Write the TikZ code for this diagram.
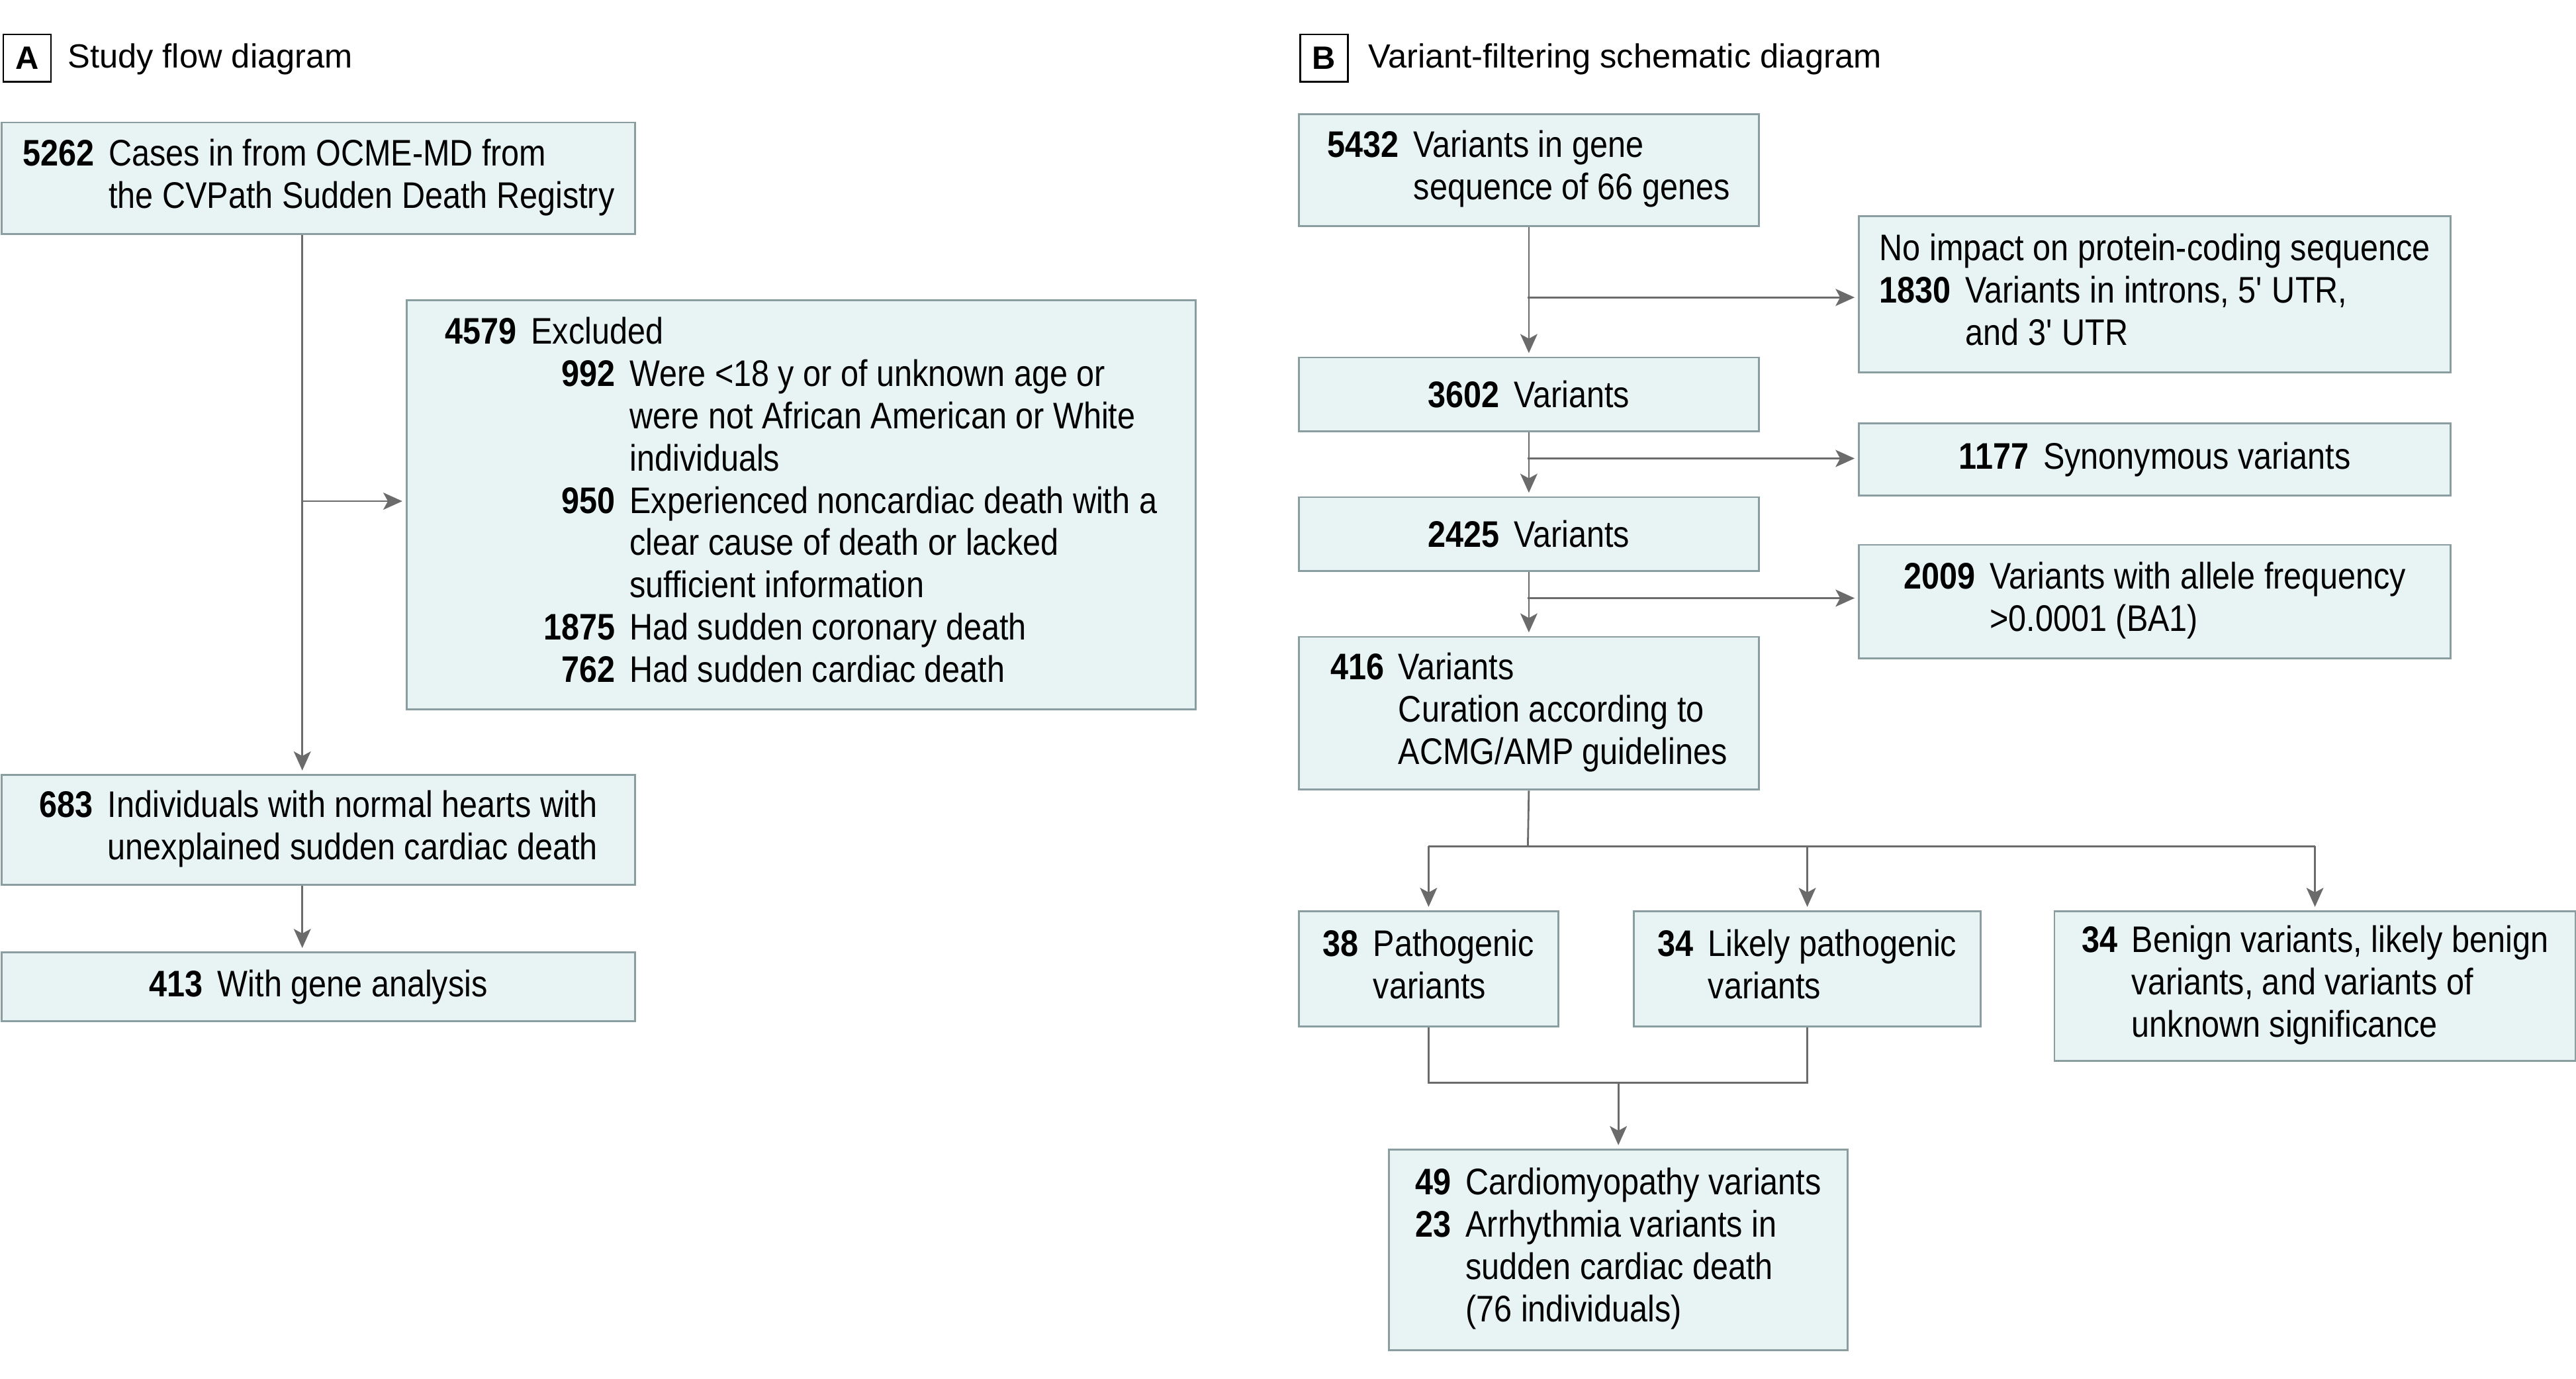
\documentclass[tikz,border=0pt]{standalone}
\usepackage{fontspec}
\usepackage{tikz}
\usepackage{xcolor}
\usetikzlibrary{arrows.meta}

\setmainfont{Liberation Sans}[FakeStretch=0.87]
\newfontfamily\headfont{Liberation Sans}
\newcommand{\bodyfont}{\fontsize{16}{18.3}\selectfont}

\definecolor{boxfill}{HTML}{E8F4F4}
\definecolor{boxline}{HTML}{8A9EA2}
\definecolor{linegray}{HTML}{6B6B6B}

\tikzset{
  box/.style={draw=boxline, fill=boxfill, line width=0.8pt, inner sep=0pt, anchor=north west, font=\bodyfont},
  lin/.style={draw=linegray, line width=0.8pt},
  arr/.style={lin, shorten >=1.5pt, -{Stealth[length=0.29cm,width=0.26cm,inset=0.07cm]}},
  tag/.style={draw, line width=0.7pt, inner sep=0pt, anchor=north west, minimum width=0.725cm, minimum height=0.72cm, font=\headfont\fontsize{14}{16}\selectfont\bfseries},
  head/.style={anchor=west, inner sep=0pt, font=\headfont\fontsize{14.5}{17}\selectfont}
}

\begin{document}
\begin{tikzpicture}[x=0.025cm, y=-0.025cm]
  \useasboundingbox (0,0) rectangle (1568,839);

  % Panel headings
  \node[tag] (tagA) at (1.5,20.5) {A};
  \node[head] (headA) at (41,36) {Study flow diagram};
  \node[tag] (tagB) at (791,20.5) {B};
  \node[head] (headB) at (832.5,36) {Variant-filtering schematic diagram};

  % A: study flow
  \node[box, minimum width=9.635cm, minimum height=1.7cm] (cases) at (0.6,74) {%
    \begin{tabular}{@{}r@{\hspace{0.22cm}}l@{}}
      \textbf{5262} & Cases in from OCME-MD from\\
       & the CVPath Sudden Death Registry
    \end{tabular}};
  \node[box, minimum width=12cm, minimum height=6.225cm] (excl) at (247,182) {%
    \begin{tabular}{@{\hspace{1.5cm}}r@{\hspace{0.22cm}}l@{}}
      \multicolumn{2}{@{}l@{}}{\textbf{4579}\hspace{0.22cm}Excluded}\\
      \textbf{992} & Were <18 y or of unknown age or\\
       & were not African American or White\\
       & individuals\\
      \textbf{950} & Experienced noncardiac death with a\\
       & clear cause of death or lacked\\
       & sufficient information\\
      \textbf{1875} & Had sudden coronary death\\
      \textbf{762} & Had sudden cardiac death
    \end{tabular}};
  \node[box, minimum width=9.635cm, minimum height=1.675cm] (normal) at (0.6,471) {%
    \begin{tabular}{@{}r@{\hspace{0.22cm}}l@{}}
      \textbf{683} & Individuals with normal hearts with\\
       & unexplained sudden cardiac death
    \end{tabular}};
  \node[box, minimum width=9.635cm, minimum height=1.05cm] (gene) at (0.6,579) {%
    \textbf{413}\hspace{0.22cm}With gene analysis};

  \coordinate (ja) at (184,305);
  \draw[arr] (cases.south -| ja) -- (normal.north -| ja);
  \draw[arr] (ja) -- (excl.west |- ja);
  \draw[arr] (normal.south -| ja) -- (gene.north -| ja);

  % B: variant filtering
  \node[box, minimum width=7cm, minimum height=1.7cm] (v5432) at (790,69) {%
    \begin{tabular}{@{}r@{\hspace{0.22cm}}l@{}}
      \textbf{5432} & Variants in gene\\
       & sequence of 66 genes
    \end{tabular}};
  \node[box, minimum width=9cm, minimum height=2.375cm] (noimp) at (1131,131) {%
    \begin{tabular}{@{}r@{\hspace{0.22cm}}l@{}}
      \multicolumn{2}{@{}l@{}}{No impact on protein-coding sequence}\\
      \textbf{1830} & Variants in introns, 5\textquotesingle{} UTR,\\
       & and 3\textquotesingle{} UTR
    \end{tabular}};
  \node[box, minimum width=7cm, minimum height=1.125cm] (v3602) at (790,217) {%
    \textbf{3602}\hspace{0.22cm}Variants};
  \node[box, minimum width=9cm, minimum height=1.1cm] (syn) at (1131,257) {%
    \textbf{1177}\hspace{0.22cm}Synonymous variants};
  \node[box, minimum width=7cm, minimum height=1.125cm] (v2425) at (790,302) {%
    \textbf{2425}\hspace{0.22cm}Variants};
  \node[box, minimum width=9cm, minimum height=1.725cm] (freq) at (1131,331) {%
    \begin{tabular}{@{}r@{\hspace{0.22cm}}l@{}}
      \textbf{2009} & Variants with allele frequency\\
       & >0.0001 (BA1)
    \end{tabular}};
  \node[box, minimum width=7cm, minimum height=2.325cm] (v416) at (790,387) {%
    \begin{tabular}{@{}r@{\hspace{0.22cm}}l@{}}
      \textbf{416} & Variants\\
       & Curation according to\\
       & ACMG/AMP guidelines
    \end{tabular}};
  \node[box, minimum width=3.95cm, minimum height=1.75cm] (path) at (790,554) {%
    \begin{tabular}{@{}r@{\hspace{0.22cm}}l@{}}
      \textbf{38} & Pathogenic\\
       & variants
    \end{tabular}};
  \node[box, minimum width=5.275cm, minimum height=1.75cm] (likely) at (994,554) {%
    \begin{tabular}{@{}r@{\hspace{0.22cm}}l@{}}
      \textbf{34} & Likely pathogenic\\
       & variants
    \end{tabular}};
  \node[box, minimum width=7.925cm, minimum height=2.275cm] (benign) at (1250,554) {%
    \begin{tabular}{@{}r@{\hspace{0.22cm}}l@{}}
      \textbf{34} & Benign variants, likely benign\\
       & variants, and variants of\\
       & unknown significance
    \end{tabular}};
  \node[box, minimum width=6.975cm, minimum height=3.05cm] (card) at (845,699) {%
    \begin{tabular}{@{}r@{\hspace{0.22cm}}l@{}}
      \textbf{49} & Cardiomyopathy variants\\
      \textbf{23} & Arrhythmia variants in\\
       & sudden cardiac death\\
       & (76 individuals)
    \end{tabular}};

  % filtering steps
  \coordinate (b1) at (930,181);
  \coordinate (b2) at (930,279);
  \coordinate (b3) at (930,364);
  \draw[arr] (v5432.south) -- (v3602.north);
  \draw[arr] (v3602.south) -- (v2425.north);
  \draw[arr] (v2425.south) -- (v416.north);
  \draw[arr] (b1) -- (noimp.west |- b1);
  \draw[arr] (b2) -- (syn.west |- b2);
  \draw[arr] (b3) -- (freq.west |- b3);

  % classification
  \coordinate (split) at (930,515);
  \coordinate (join) at (985,659);
  \draw[lin] (v416.south) -- (split);
  \draw[lin] (path.north |- split) -- (benign.north |- split);
  \foreach \t in {path,likely,benign}
    \draw[arr] (\t.north |- split) -- (\t.north);
  \draw[lin] (path.south) -- (path.south |- join) -- (likely.south |- join) -- (likely.south);
  \draw[arr] (card.north |- join) -- (card.north);
\end{tikzpicture}
\end{document}
